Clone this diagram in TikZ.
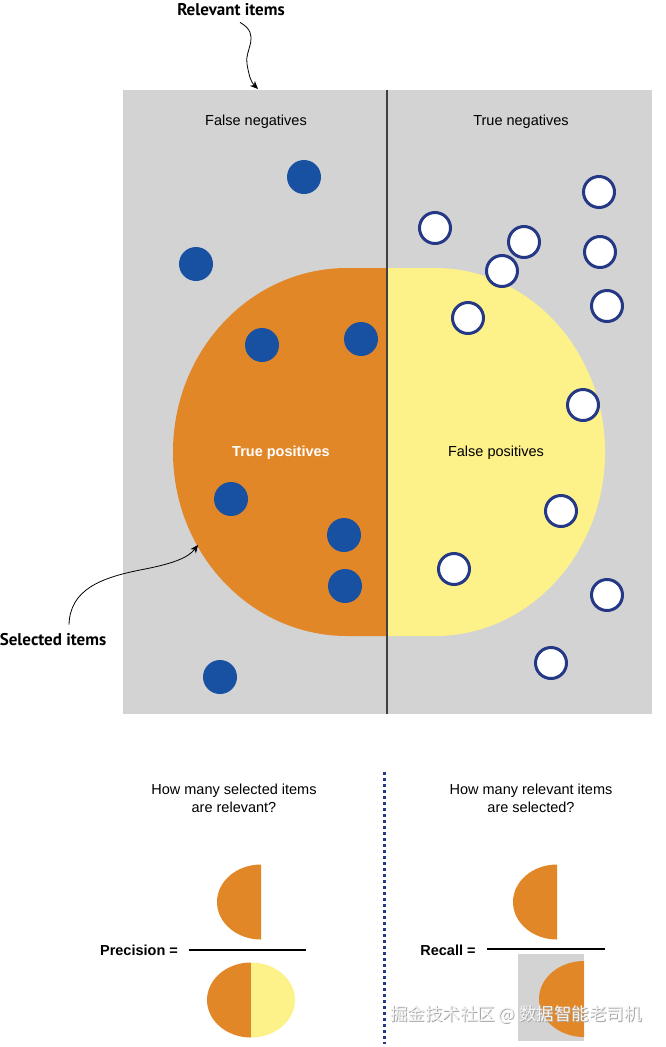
\documentclass[tikz,border=0pt]{standalone}
\usepackage{fontspec}
\setmainfont{Liberation Sans}
\newfontfamily\calloutfont{PT Sans}
\newfontfamily\cjkfont{Noto Sans CJK SC}
\usetikzlibrary{arrows.meta}
\definecolor{boxgray}{RGB}{211,211,211}
\definecolor{selorange}{RGB}{226,135,40}
\definecolor{fpyellow}{RGB}{253,241,138}
\definecolor{dotblue}{RGB}{24,80,162}
\definecolor{ringblue}{RGB}{36,56,134}
\begin{document}
\begin{tikzpicture}[x=1pt,y=-1pt,
   txt/.style={font=\fontsize{14.5}{18}\selectfont,inner sep=0pt,align=center},
   callout/.style={font=\calloutfont\bfseries\fontsize{17}{20}\selectfont,inner sep=0pt},
   reldot/.style={circle,fill=dotblue,minimum size=34pt,inner sep=0pt},
   irrdot/.style={circle,draw=ringblue,fill=white,line width=3pt,minimum size=31pt,inner sep=0pt},
   pointer/.style={-{Stealth[length=8pt,width=7pt]},line width=0.8pt}]
   \useasboundingbox (0,0) rectangle (666,1047);
   \fill [boxgray] (123,90) rectangle (652,714);
   \fill [selorange] (387,268) -- (347,268) arc [start angle=270,end angle=90,x radius=174,y radius=184] -- (387,636) -- cycle;
   \fill [fpyellow] (387,268) -- (435,268) arc [start angle=270,end angle=450,x radius=170,y radius=184] -- (387,636) -- cycle;
   \draw [line width=1.3pt,black!75] (387,90) -- (387,714);
   \foreach \x/\y [count=\i] in {304/177,196/264,262/345,361/339,231/499,344/535,345/586,220/677}
      \node [reldot] (rel\i) at (\x,\y) {};
   \foreach \x/\y [count=\i] in {435/228,524/242,502/271,599/192,600/252,607/306,468/318,583/405,561/511,454/569,607/595,551/663}
      \node [irrdot] (irr\i) at (\x,\y) {};
   \node [txt] (fn) at (256,122) {False negatives};
   \node [txt] (tn) at (521,122) {True negatives};
   \node [txt,white,font=\bfseries\fontsize{14.5}{18}\selectfont] (tp) at (281,453) {True positives};
   \node [txt] (fp) at (496,453) {False positives};
   \node [callout] (relevant) at (231,10) {Relevant items};
   \node [callout] (selected) at (53,640) {Selected items};
   \coordinate (reltip) at (258,89);
   \coordinate (seltip) at (198,545);
   \draw [pointer] ([xshift=9pt,yshift=-6pt]relevant.south) .. controls (262,35) and (244,50) .. (247,64) .. controls (249,76) and (251,82) .. (reltip);
   \draw [pointer] ([xshift=16pt,yshift=9pt]selected.north) .. controls (70,590) and (100,578) .. (140,570) .. controls (172,564) and (188,558) .. (seltip);
   \node [txt] (qprec) at (234,798) {How many selected items\\are relevant?};
   \node [txt] (qrec) at (531,798) {How many relevant items\\are selected?};
   \draw [ringblue,line width=3pt,dash pattern=on 3pt off 3pt] (384,772) -- (384,1044);
   \node [txt,font=\bfseries\fontsize{14.5}{18}\selectfont] (precision) at (139,950) {Precision =};
   \draw [line width=1.3pt] (189,950) -- (306,950);
   \fill [selorange] (261,864.5) arc [start angle=270,end angle=90,x radius=44,y radius=37.5] -- cycle;
   \fill [selorange] (251,962.5) arc [start angle=270,end angle=90,x radius=44,y radius=37.5] -- cycle;
   \fill [fpyellow] (251,962.5) arc [start angle=270,end angle=450,x radius=44,y radius=37.5] -- cycle;
   \node [txt,font=\bfseries\fontsize{14.5}{18}\selectfont] (recall) at (448,950) {Recall =};
   \draw [line width=1.3pt] (487,949) -- (605,949);
   \fill [selorange] (557,864.5) arc [start angle=270,end angle=90,x radius=44,y radius=37.5] -- cycle;
   \fill [boxgray] (518,954) rectangle (584,1041);
   \fill [selorange] (584,961) arc [start angle=270,end angle=90,x radius=45,y radius=38] -- cycle;
   \node [txt,font=\cjkfont\fontsize{17.5}{20}\selectfont,gray!70] (wmshadow) at (517,1016) {掘金技术社区 @ 数据智能老司机};
   \node [txt,font=\cjkfont\fontsize{17.5}{20}\selectfont,white!92!gray] (wm) at (516,1015) {掘金技术社区 @ 数据智能老司机};
\end{tikzpicture}
\end{document}
